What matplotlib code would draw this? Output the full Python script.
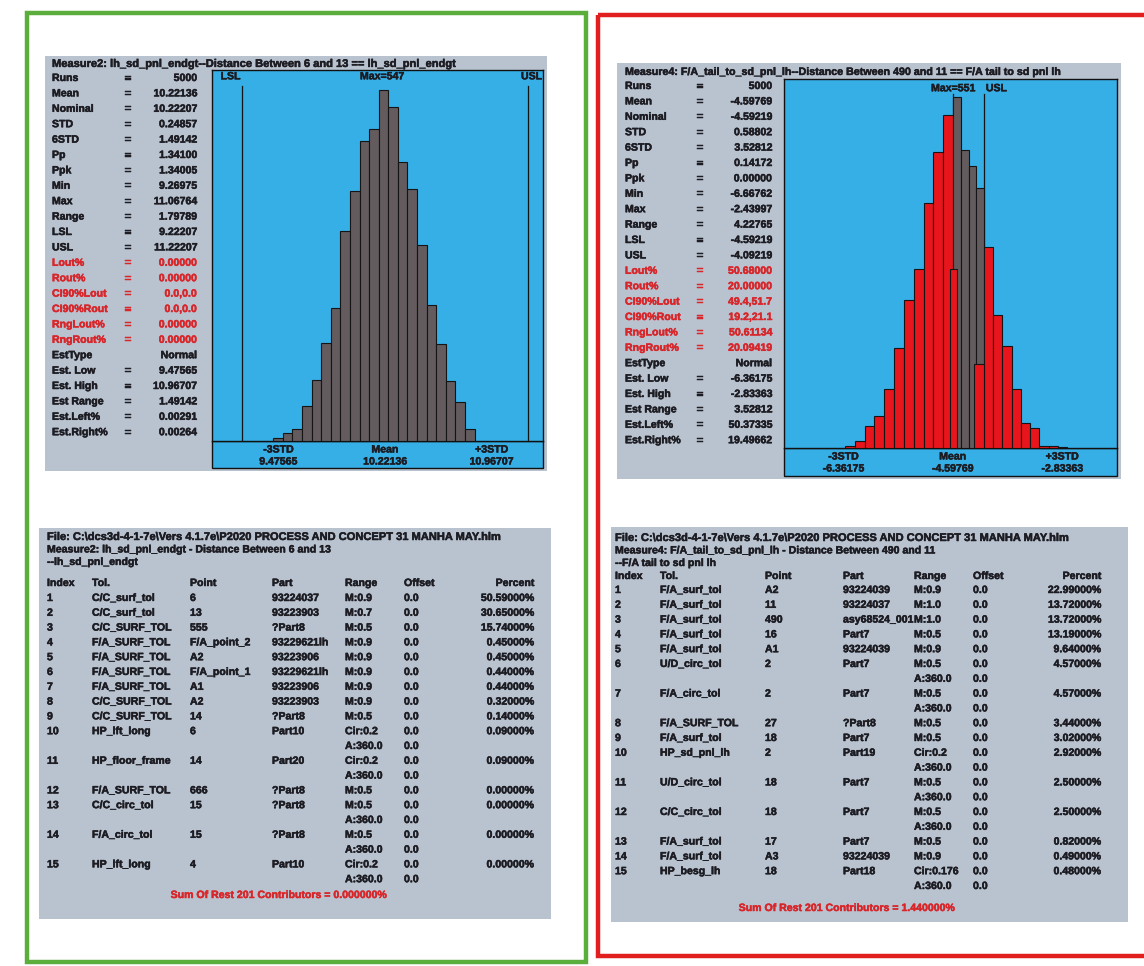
import numpy as np
import matplotlib
matplotlib.use("Agg")
from matplotlib import pyplot as plt
from matplotlib.patches import Rectangle
from matplotlib.transforms import blended_transform_factory
import matplotlib.patheffects as pe

W, H = 1144, 966

# ---- summary statistics for the two measures ----
stat_names = ["Runs", "Mean", "Nominal", "STD", "6STD", "Pp", "Ppk", "Min", "Max", "Range",
              "LSL", "USL", "Lout%", "Rout%", "CI90%Lout", "CI90%Rout", "RngLout%", "RngRout%",
              "EstType", "Est. Low", "Est. High", "Est Range", "Est.Left%", "Est.Right%"]
red_names = ["Lout%", "Rout%", "CI90%Lout", "CI90%Rout", "RngLout%", "RngRout%"]

m2_title = "Measure2: lh_sd_pnl_endgt--Distance Between 6 and 13 == lh_sd_pnl_endgt"
m2_values = ["5000", "10.22136", "10.22207", "0.24857", "1.49142", "1.34100", "1.34005",
             "9.26975", "11.06764", "1.79789", "9.22207", "11.22207", "0.00000", "0.00000",
             "0.0,0.0", "0.0,0.0", "0.00000", "0.00000", "Normal", "9.47565", "10.96707",
             "1.49142", "0.00291", "0.00264"]
m2_lsl, m2_usl = 9.22207, 11.22207
m2_mean, m2_lo3, m2_hi3 = 10.22136, 9.47565, 10.96707
m2_max = 547

m4_title = "Measure4: F/A_tail_to_sd_pnl_lh--Distance Between 490 and 11 == F/A tail to sd pnl lh"
m4_values = ["5000", "-4.59769", "-4.59219", "0.58802", "3.52812", "0.14172", "0.00000",
             "-6.66762", "-2.43997", "4.22765", "-4.59219", "-4.09219", "50.68000", "20.00000",
             "49.4,51.7", "19.2,21.1", "50.61134", "20.09419", "Normal", "-6.36175", "-2.83363",
             "3.52812", "50.37335", "19.49662"]
m4_lsl, m4_usl = -4.59219, -4.09219
m4_mean, m4_lo3, m4_hi3 = -4.59769, -6.36175, -2.83363
m4_max = 551

# ---- histogram counts ----
m2_first_bin = 9.441
m2_bin_width = 0.067
m2_counts = [5, 13, 18, 55, 95, 153, 207, 327, 390, 468, 487, 547, 521, 435, 393, 306,
             212, 151, 94, 60, 18]

# Measure4: below LSL, inside the limits, above USL
m4_low_span = (-6.334, m4_lsl)
m4_low_counts = [3, 11, 34, 50, 92, 157, 232, 281, 385, 465, 523]
m4_in_counts = [551, 467, 443, 408]
m4_high_span = (m4_usl, -2.75)
m4_high_counts = [316, 208, 160, 92, 39, 32, 3, 3, 1]
# out-of-limit parts of the bins that straddle LSL / USL
m4_edge_lo = (-4.640, -4.533)
m4_edge_lo_count = 281
m4_edge_hi = (-4.250, m4_usl)
m4_edge_hi_count = 132

# ---- contributor tables ----
tbl_head = ["Index", "Tol.", "Point", "Part", "Range", "Offset", "Percent"]

m2_file = "File: C:\\dcs3d-4-1-7e\\Vers 4.1.7e\\P2020 PROCESS AND CONCEPT 31 MANHA MAY.hlm"
m2_meas = ["Measure2: lh_sd_pnl_endgt - Distance Between 6 and 13", "--lh_sd_pnl_endgt"]
m2_rows = [
    ("1", "C/C_surf_tol", "6", "93224037", "M:0.9", "0.0", "50.59000%", False),
    ("2", "C/C_surf_tol", "13", "93223903", "M:0.7", "0.0", "30.65000%", False),
    ("3", "C/C_SURF_TOL", "555", "?Part8", "M:0.5", "0.0", "15.74000%", False),
    ("4", "F/A_SURF_TOL", "F/A_point_2", "93229621lh", "M:0.9", "0.0", "0.45000%", False),
    ("5", "F/A_SURF_TOL", "A2", "93223906", "M:0.9", "0.0", "0.45000%", False),
    ("6", "F/A_SURF_TOL", "F/A_point_1", "93229621lh", "M:0.9", "0.0", "0.44000%", False),
    ("7", "F/A_SURF_TOL", "A1", "93223906", "M:0.9", "0.0", "0.44000%", False),
    ("8", "C/C_SURF_TOL", "A2", "93223903", "M:0.9", "0.0", "0.32000%", False),
    ("9", "C/C_SURF_TOL", "14", "?Part8", "M:0.5", "0.0", "0.14000%", False),
    ("10", "HP_lft_long", "6", "Part10", "Cir:0.2", "0.0", "0.09000%", True),
    ("11", "HP_floor_frame", "14", "Part20", "Cir:0.2", "0.0", "0.09000%", True),
    ("12", "F/A_SURF_TOL", "666", "?Part8", "M:0.5", "0.0", "0.00000%", False),
    ("13", "C/C_circ_tol", "15", "?Part8", "M:0.5", "0.0", "0.00000%", True),
    ("14", "F/A_circ_tol", "15", "?Part8", "M:0.5", "0.0", "0.00000%", True),
    ("15", "HP_lft_long", "4", "Part10", "Cir:0.2", "0.0", "0.00000%", True),
]
m2_rest = "Sum Of Rest 201 Contributors = 0.000000%"

m4_file = "File: C:\\dcs3d-4-1-7e\\Vers 4.1.7e\\P2020 PROCESS AND CONCEPT 31 MANHA MAY.hlm"
m4_meas = ["Measure4: F/A_tail_to_sd_pnl_lh - Distance Between 490 and 11", "--F/A tail to sd pnl lh"]
m4_rows = [
    ("1", "F/A_surf_tol", "A2", "93224039", "M:0.9", "0.0", "22.99000%", False),
    ("2", "F/A_surf_tol", "11", "93224037", "M:1.0", "0.0", "13.72000%", False),
    ("3", "F/A_surf_tol", "490", "asy68524_001", "M:1.0", "0.0", "13.72000%", False),
    ("4", "F/A_surf_tol", "16", "Part7", "M:0.5", "0.0", "13.19000%", False),
    ("5", "F/A_surf_tol", "A1", "93224039", "M:0.9", "0.0", "9.64000%", False),
    ("6", "U/D_circ_tol", "2", "Part7", "M:0.5", "0.0", "4.57000%", True),
    ("7", "F/A_circ_tol", "2", "Part7", "M:0.5", "0.0", "4.57000%", True),
    ("8", "F/A_SURF_TOL", "27", "?Part8", "M:0.5", "0.0", "3.44000%", False),
    ("9", "F/A_surf_tol", "18", "Part7", "M:0.5", "0.0", "3.02000%", False),
    ("10", "HP_sd_pnl_lh", "2", "Part19", "Cir:0.2", "0.0", "2.92000%", True),
    ("11", "U/D_circ_tol", "18", "Part7", "M:0.5", "0.0", "2.50000%", True),
    ("12", "C/C_circ_tol", "18", "Part7", "M:0.5", "0.0", "2.50000%", True),
    ("13", "F/A_surf_tol", "17", "Part7", "M:0.5", "0.0", "0.82000%", False),
    ("14", "F/A_surf_tol", "A3", "93224039", "M:0.9", "0.0", "0.49000%", False),
    ("15", "HP_besg_lh", "18", "Part18", "Cir:0.176", "0.0", "0.48000%", True),
]
m4_rest = "Sum Of Rest 201 Contributors = 1.440000%"

# ---- styling ----
FONT = "Liberation Sans"
FS = 7.6
INK = "#1c1c22"
RED_INK = "#d8262a"
PANEL = "#b9c3d0"
PLOT_BLUE = "#36aee6"
BAR_GREY = "#635b5e"
BAR_RED = "#e8161c"
# slightly heavier strokes, like the printed report
THICK = [pe.withStroke(linewidth=0.35, foreground=INK)]

fig = plt.figure(figsize=(W / 100, H / 100), dpi=100)
fig.patch.set_facecolor("white")
bg = fig.add_axes([0, 0, 1, 1])
bg.set_xlim(0, W)
bg.set_ylim(H, 0)
bg.axis("off")


def txt(x, y, s, color=INK, ha="left", size=FS):
    bg.text(x, y, s, color=color, ha=ha, va="center", fontsize=size, family=FONT,
            weight="bold", path_effects=[pe.withStroke(linewidth=0.35, foreground=color)])


def box(x0, y0, x1, y1, **kw):
    bg.add_patch(Rectangle((x0, y0), x1 - x0, y1 - y0, **kw))


def px_axes(x0, y0, x1, y1):
    return fig.add_axes([x0 / W, 1 - y1 / H, (x1 - x0) / W, (y1 - y0) / H])


# outer frames
box(27, 13, 586, 962, fill=False, edgecolor="#5cae3c", linewidth=3.2)
box(598, 15, 1160, 956, fill=False, edgecolor="#e21f1f", linewidth=3.2)

# panels
box(45, 56, 547, 471, facecolor=PANEL, edgecolor="none")
box(617, 63, 1121, 479, facecolor=PANEL, edgecolor="none")
box(39, 528, 551, 919, facecolor=PANEL, edgecolor="none")
box(611, 527, 1128, 922, facecolor=PANEL, edgecolor="none")


def stats_block(x_lab, x_eq, x_val, y0, step, title, values, title_size):
    txt(x_lab, y0 - 14, title, size=title_size)
    for i, (name, val) in enumerate(zip(stat_names, values)):
        col = RED_INK if name in red_names else INK
        y = y0 + i * step
        txt(x_lab, y, name, color=col)
        if name != "EstType":
            txt(x_eq, y, "=", color=col, ha="center")
        txt(x_val, y, val, color=col, ha="right")


stats_block(52, 128, 197, 78, 15.4, m2_title, m2_values, 8.0)
stats_block(625, 700, 772, 86, 15.4, m4_title, m4_values, 7.7)


def hist_axes(x0, y0, x1, y1, strip_h, lsl, usl, px_per_unit, lsl_px):
    # strip under the plot for the -3STD / Mean / +3STD readout
    box(x0, y1, x1, y1 + strip_h, facecolor=PLOT_BLUE, edgecolor="#111111", linewidth=1.0)
    ax = px_axes(x0, y0, x1, y1)
    ax.set_facecolor(PLOT_BLUE)
    ax.set_xlim(lsl - (lsl_px - x0) / px_per_unit, lsl + (x1 - lsl_px) / px_per_unit)
    ax.set_xticks([])
    ax.set_yticks([])
    for sp in ax.spines.values():
        sp.set_color("#111111")
        sp.set_linewidth(1.0)
    return ax


def ax_text(ax, x, y, s, ha="center", x_in_axes=False):
    if x_in_axes:
        tr = ax.transAxes
    else:
        tr = blended_transform_factory(ax.transData, ax.transAxes)
    ax.text(x, y, s, transform=tr, ha=ha, va="center", fontsize=FS, family=FONT,
            weight="bold", color=INK, clip_on=False, path_effects=THICK)


def readout(ax, lo3, mean, hi3, lo3_s, mean_s, hi3_s, h_px):
    for xv, top, bottom in [(lo3, "-3STD", lo3_s), (mean, "Mean", mean_s), (hi3, "+3STD", hi3_s)]:
        ax_text(ax, xv, -8.5 / h_px, top)
        ax_text(ax, xv, -20.5 / h_px, bottom)


# Measure2 histogram
ax2 = hist_axes(212, 70, 543, 441, 27, m2_lsl, m2_usl, 143.0, 242)
edges2 = m2_first_bin + m2_bin_width * np.arange(len(m2_counts))
ax2.bar(edges2, m2_counts, width=m2_bin_width, align="edge", color=BAR_GREY,
        edgecolor="#151515", linewidth=0.8, zorder=3)
ax2.set_ylim(0, m2_max * 1.057)
for lim in (m2_lsl, m2_usl):
    ax2.axvline(lim, ymin=0, ymax=0.958, color="#151515", linewidth=0.9, zorder=2)
ax_text(ax2, m2_lsl - 0.01, 0.983, "LSL", ha="right")
ax_text(ax2, 0.997, 0.983, "USL", ha="right", x_in_axes=True)
ax_text(ax2, m2_mean - 0.02, 0.983, "Max=%d" % m2_max)
readout(ax2, m2_lo3, m2_mean, m2_hi3, m2_values[19], m2_values[1], m2_values[20], 371)

# Measure4 histogram
ax4 = hist_axes(784, 79, 1117, 448, 28, m4_lsl, m4_usl, 62.0, 953)
lo_edges = np.linspace(m4_low_span[0], m4_low_span[1], len(m4_low_counts) + 1)
in_edges = np.linspace(m4_lsl, m4_usl, len(m4_in_counts) + 1)
hi_edges = np.linspace(m4_high_span[0], m4_high_span[1], len(m4_high_counts) + 1)
ax4.axvline(m4_lsl, ymin=0, ymax=0.96, color="#151515", linewidth=0.9, zorder=2)
ax4.axvline(m4_usl, ymin=0, ymax=0.96, color="#151515", linewidth=0.9, zorder=2)
ax4.bar(lo_edges[:-1], m4_low_counts, width=np.diff(lo_edges), align="edge", color=BAR_RED,
        edgecolor="#151515", linewidth=0.8, zorder=3)
ax4.bar(in_edges[:-1], m4_in_counts, width=np.diff(in_edges), align="edge", color=BAR_GREY,
        edgecolor="#151515", linewidth=0.8, zorder=3)
ax4.bar(hi_edges[:-1], m4_high_counts, width=np.diff(hi_edges), align="edge", color=BAR_RED,
        edgecolor="#151515", linewidth=0.8, zorder=3)
ax4.bar([m4_edge_lo[0], m4_edge_hi[0]], [m4_edge_lo_count, m4_edge_hi_count],
        width=[m4_edge_lo[1] - m4_edge_lo[0], m4_edge_hi[1] - m4_edge_hi[0]], align="edge",
        color=BAR_RED, edgecolor="#151515", linewidth=0.8, zorder=4)
ax4.set_ylim(0, m4_max * 1.051)
ax_text(ax4, m4_lsl, 0.975, "Max=%d" % m4_max)
ax_text(ax4, m4_usl + 0.03, 0.975, "USL", ha="left")
readout(ax4, m4_lo3, m4_mean, m4_hi3, m4_values[19], m4_values[1], m4_values[20], 369)


def contrib_table(cols, pct_x, y_file, head_y, row_y, step, file_s, meas, rows, rest, rest_x, rest_y):
    txt(cols[0], y_file, file_s, size=8.0)
    txt(cols[0], y_file + 12.5, meas[0])
    txt(cols[0], y_file + 25, meas[1])
    for i, h in enumerate(tbl_head[:-1]):
        txt(cols[i], head_y, h)
    txt(pct_x, head_y, tbl_head[-1], ha="right")
    y = row_y
    for r in rows:
        for i, s in enumerate(r[:6]):
            txt(cols[i], y, s)
        txt(pct_x, y, r[6], ha="right")
        y += step
        if r[7]:
            txt(cols[4], y, "A:360.0")
            txt(cols[5], y, "0.0")
            y += step
    txt(rest_x, rest_y, rest, color=RED_INK, ha="center")


contrib_table([47, 92, 190, 272, 345, 404], 534, 537, 583, 598, 14.8,
              m2_file, m2_meas, m2_rows, m2_rest, 278, 895)
contrib_table([615, 660, 765, 843, 914, 973], 1101, 538, 576, 590, 14.8,
              m4_file, m4_meas, m4_rows, m4_rest, 846, 908)

fig.savefig("out.png", dpi=100, facecolor="white")
